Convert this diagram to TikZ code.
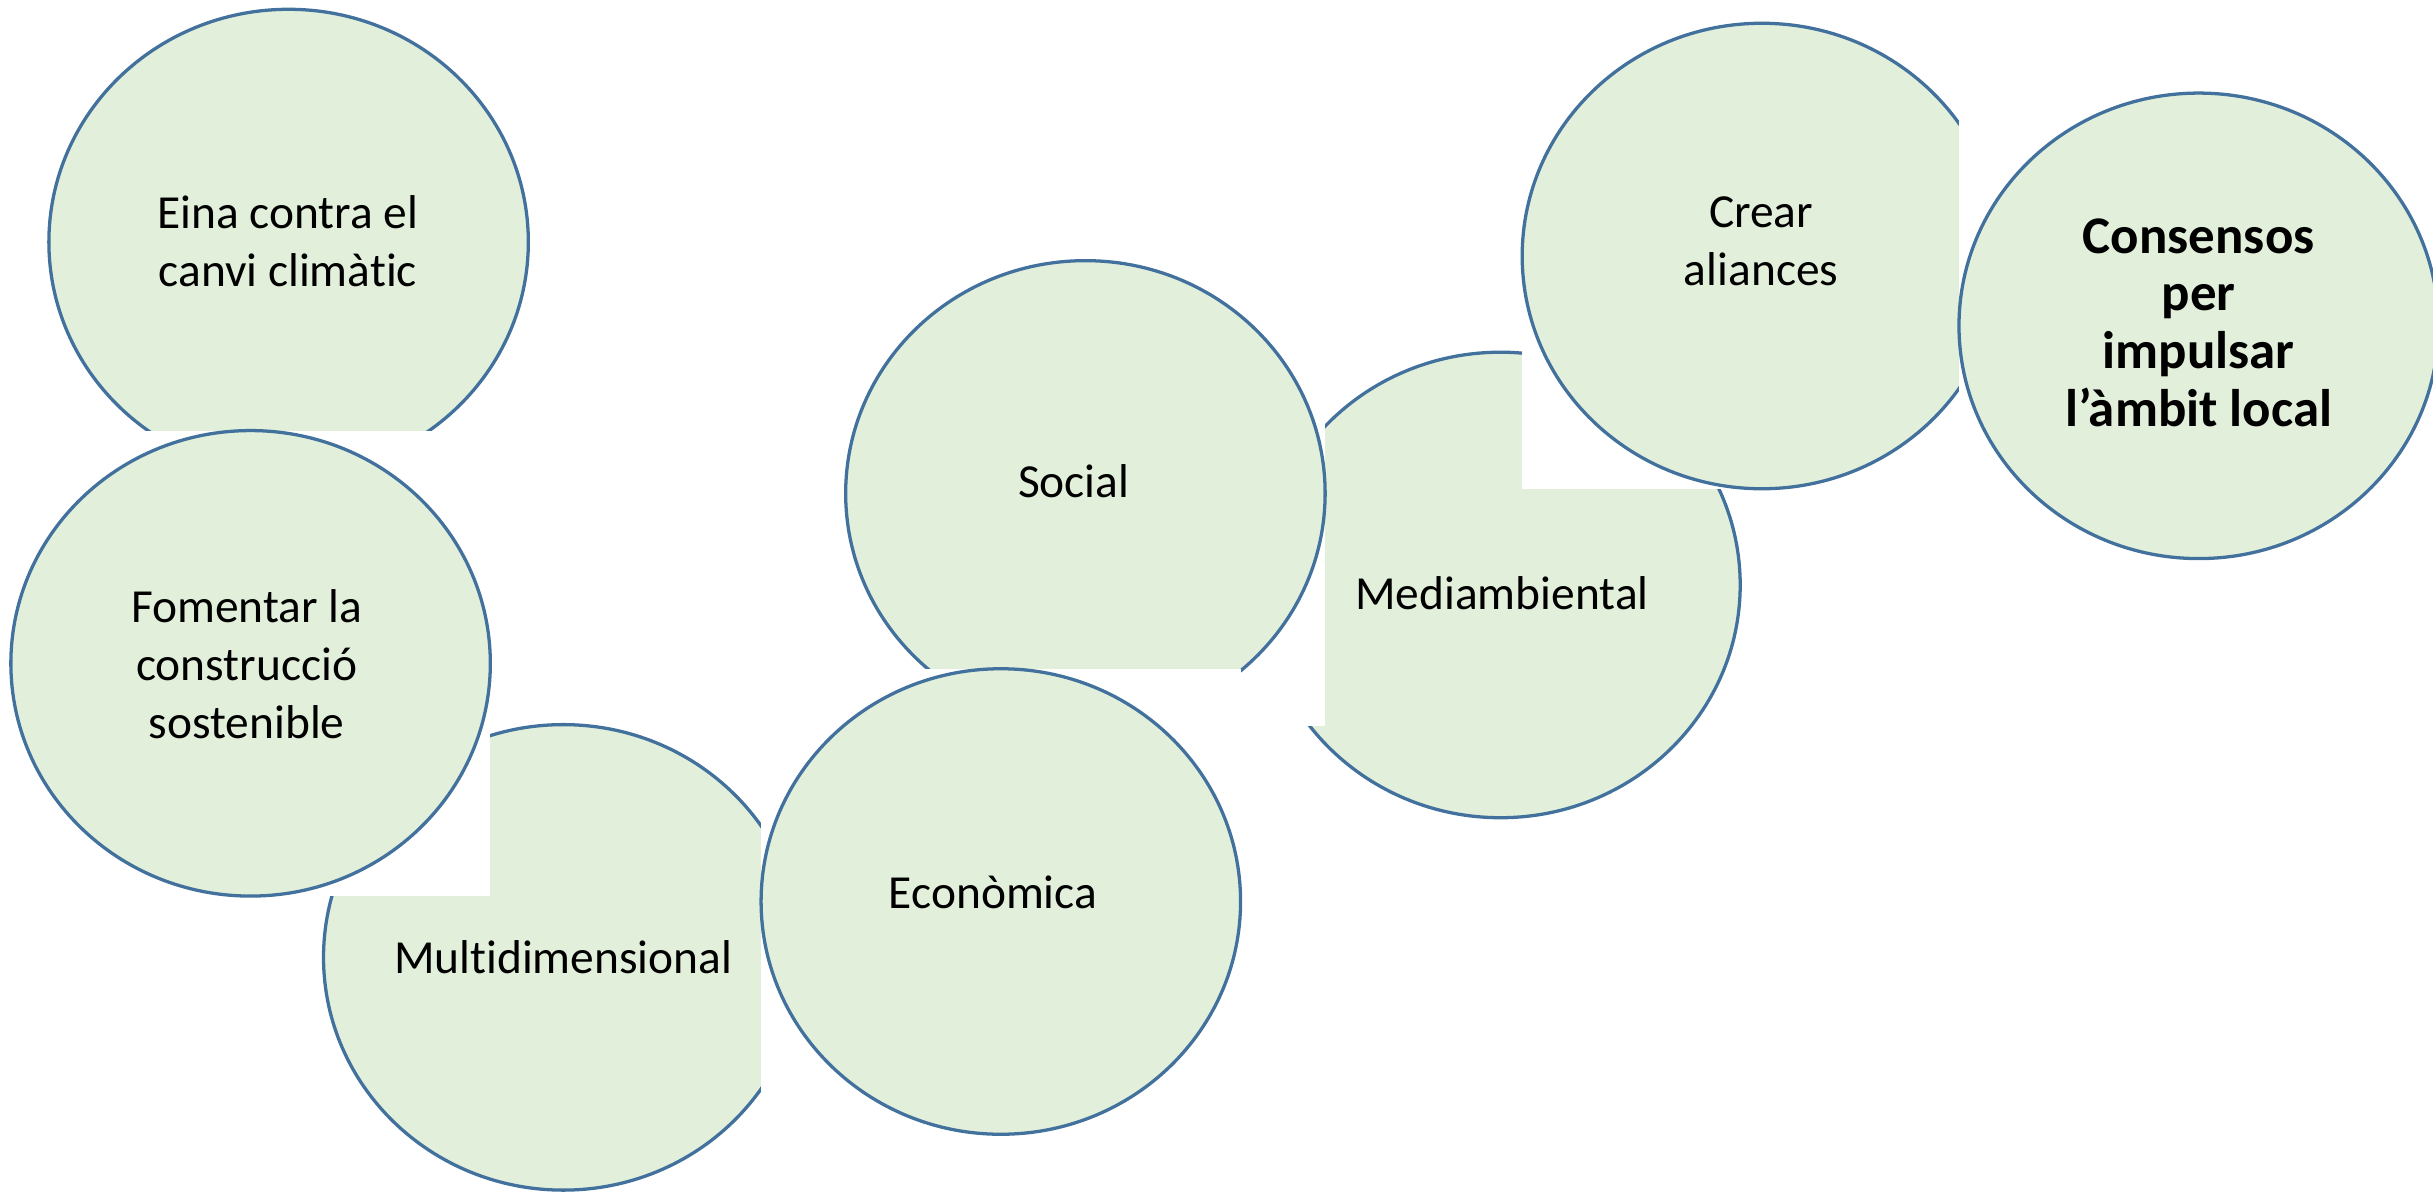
\documentclass[tikz,border=0pt]{standalone}
\usepackage{fontspec}
\setmainfont{Carlito}[RawFeature={-liga;-clig;-calt;-dlig}]
\definecolor{circfill}{HTML}{E2EFDA}
\definecolor{circline}{HTML}{41719C}

\begin{document}
\begin{tikzpicture}[
	backbox/.style={fill=white},
	bubble/.style={draw=circline, fill=circfill, line width=0.6pt},
	txt/.style={align=center, font=\fontsize{8.7}{10.6}\selectfont}]
	\useasboundingbox (0,0) rectangle (15.68,7.68);

	\fill[backbox] (0.315, 4.62) rectangle (3.405, 7.62);
	\filldraw[bubble] (1.86, 6.12) ellipse (1.545 and 1.5);
	\node[txt] (eina) at (1.855, 6.125) {Eina contra el\\canvi climàtic};

	\fill[backbox] (2.085, 0.01) rectangle (5.175, 3.01);
	\filldraw[bubble] (3.63, 1.51) ellipse (1.545 and 1.5);
	\node[txt] (multi) at (3.63, 1.51) {Multidimensional};

	\fill[backbox] (0.07, 1.905) rectangle (3.16, 4.905);
	\filldraw[bubble] (1.615, 3.405) ellipse (1.545 and 1.5);
	\node[txt] (fomentar) at (1.59, 3.40) {Fomentar la\\construcció\\sostenible};

	\fill[backbox] (8.125, 2.41) rectangle (11.215, 5.41);
	\filldraw[bubble] (9.67, 3.91) ellipse (1.545 and 1.5);
	\node[txt] (medi) at (9.68, 3.86) {Mediambiental};

	\fill[backbox] (5.45, 3.0) rectangle (8.54, 6.0);
	\filldraw[bubble] (6.995, 4.50) ellipse (1.545 and 1.5);
	\node[txt] (social) at (6.92, 4.58) {Social};

	\fill[backbox] (9.81, 4.53) rectangle (12.9, 7.53);
	\filldraw[bubble] (11.355, 6.03) ellipse (1.545 and 1.5);
	\node[txt] (crear) at (11.35, 6.125) {Crear\\aliances};

	\fill[backbox] (12.625, 4.08) rectangle (15.715, 7.08);
	\filldraw[bubble] (14.17, 5.58) ellipse (1.545 and 1.5);
	\node[txt, font=\fontsize{9.7}{10.6}\selectfont\bfseries] (consensos) at (14.17, 5.60) {Consensos\\per\\impulsar\\l’àmbit local};

	\fill[backbox] (4.905, 0.37) rectangle (7.995, 3.37);
	\filldraw[bubble] (6.45, 1.87) ellipse (1.545 and 1.5);
	\node[txt] (economica) at (6.40, 1.93) {Econòmica};
\end{tikzpicture}
\end{document}
